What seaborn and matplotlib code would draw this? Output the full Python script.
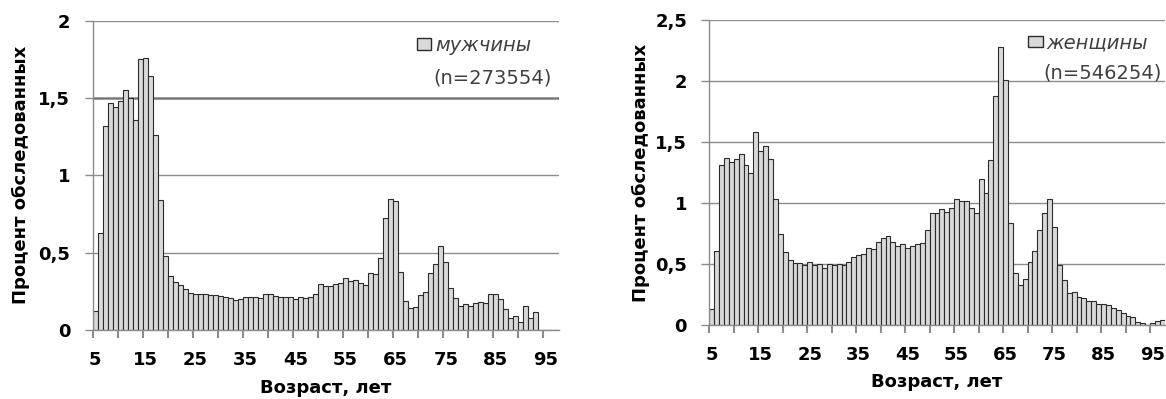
import matplotlib
matplotlib.use("Agg")
import matplotlib.pyplot as plt
import seaborn as sns
import pandas as pd
import numpy as np
from matplotlib.patches import Patch
from matplotlib.ticker import FixedLocator, NullFormatter, FixedFormatter

# ---------------- data ----------------
ages_m = list(range(5, 94))
pct_m = [0.12, 0.63, 1.32, 1.47, 1.44, 1.48, 1.55, 1.50, 1.36, 1.75,
         1.76, 1.64, 1.26, 0.84, 0.48, 0.35, 0.31, 0.29, 0.265, 0.237,
         0.23, 0.23, 0.23, 0.227, 0.225, 0.22, 0.215, 0.205, 0.195, 0.20,
         0.215, 0.212, 0.215, 0.205, 0.23, 0.235, 0.222, 0.212, 0.212, 0.212,
         0.20, 0.212, 0.205, 0.212, 0.23, 0.297, 0.285, 0.285, 0.297, 0.306,
         0.334, 0.32, 0.324, 0.302, 0.29, 0.37, 0.362, 0.463, 0.727, 0.845,
         0.835, 0.377, 0.188, 0.14, 0.15, 0.226, 0.243, 0.366, 0.425, 0.54,
         0.442, 0.274, 0.205, 0.158, 0.166, 0.158, 0.173, 0.179, 0.173, 0.233,
         0.233, 0.198, 0.136, 0.076, 0.09, 0.054, 0.158, 0.076, 0.119]

ages_f = list(range(5, 98))
pct_f = [0.13, 0.61, 1.31, 1.37, 1.34, 1.36, 1.40, 1.31, 1.25, 1.58,
         1.43, 1.47, 1.36, 1.03, 0.75, 0.60, 0.53, 0.51, 0.51, 0.49,
         0.52, 0.49, 0.50, 0.47, 0.50, 0.49, 0.50, 0.49, 0.52, 0.56,
         0.57, 0.58, 0.63, 0.62, 0.68, 0.71, 0.73, 0.68, 0.65, 0.66,
         0.63, 0.65, 0.66, 0.675, 0.78, 0.92, 0.92, 0.95, 0.93, 0.96,
         1.03, 1.02, 1.02, 0.96, 0.92, 1.20, 1.08, 1.35, 1.88, 2.28,
         2.01, 0.84, 0.43, 0.33, 0.38, 0.52, 0.61, 0.78, 0.915, 1.03,
         0.80, 0.49, 0.37, 0.26, 0.27, 0.23, 0.22, 0.20, 0.20, 0.17,
         0.17, 0.165, 0.14, 0.12, 0.10, 0.075, 0.068, 0.025, 0.02, 0.0,
         0.015, 0.03, 0.04]

x_label_ages = [5, 15, 25, 35, 45, 55, 65, 75, 85, 95]
x_tick_labels = ["5", "15", "25", "35", "45", "55", "65", "75", "85", "95"]
y_ticks_m = [0, 0.5, 1, 1.5, 2]
y_tick_labels_m = ["0", "0,5", "1", "1,5", "2"]
y_ticks_f = [0, 0.5, 1, 1.5, 2, 2.5]
y_tick_labels_f = ["0", "0,5", "1", "1,5", "2", "2,5"]

legend_m = "мужчины"
n_m = "(n=273554)"
legend_f = "женщины"
n_f = "(n=546254)"
y_title = "Процент обследованных"
x_title = "Возраст, лет"

# ---------------- style ----------------
FILL = "#d9d9d9"
EDGE = "#2b2b2b"
GRID = "#8c8c8c"

sns.set_theme(style="white")
plt.rcParams['font.family'] = ['DejaVu Sans']

W, H = 1166, 399
fig = plt.figure(figsize=(W / 100, H / 100), dpi=100)
ax1 = fig.add_axes([92.5 / W, 1 - 330 / H, 466 / W, 309.3 / H])
ax2 = fig.add_axes([709.3 / W, 1 - 325 / H, 455.4 / W, 305 / H])


def draw(ax, ages, pct, yticks, ylabels, ymax, leg, ntext, leg_pos, n_pos,
         ylab_x, xlab_y):
    df = pd.DataFrame({"age": ages, "pct": pct})
    sns.barplot(data=df, x="age", y="pct", native_scale=True, width=1.0,
                color=FILL, saturation=1, edgecolor=EDGE, linewidth=0.8,
                errorbar=None, ax=ax)
    ax.set_xlim(4.5, 97.5)
    ax.set_ylim(0, ymax)
    ax.set_axisbelow(True)
    ax.yaxis.grid(True, color=GRID, lw=1.0)
    ax.xaxis.grid(False)
    for s in ["top", "right"]:
        ax.spines[s].set_visible(False)
    for s in ["left", "bottom"]:
        ax.spines[s].set_color(GRID)
        ax.spines[s].set_linewidth(1.0)

    ax.xaxis.set_major_locator(FixedLocator(np.arange(4.5, 95, 5)))
    ax.xaxis.set_major_formatter(NullFormatter())
    ax.xaxis.set_minor_locator(FixedLocator(x_label_ages))
    ax.xaxis.set_minor_formatter(FixedFormatter(x_tick_labels))
    ax.tick_params(axis="x", which="major", bottom=True, length=6, width=1.5,
                   color=GRID, direction="out")
    ax.tick_params(axis="x", which="minor", bottom=True, length=0, pad=15,
                   labelsize=13, labelcolor="black")
    ax.set_yticks(yticks)
    ax.set_yticklabels(ylabels)
    ax.tick_params(axis="y", left=True, length=6, width=1.0, color=GRID,
                   direction="out", pad=10, labelsize=13, labelcolor="black")
    for t in ax.get_xticklabels(minor=True) + ax.get_yticklabels():
        t.set_fontweight("bold")

    ax.set_xlabel(x_title, fontsize=13, fontweight="bold", color="black")
    ax.set_ylabel(y_title, fontsize=13, fontweight="bold", color="black")
    ax.yaxis.set_label_coords(ylab_x, 0.5)
    ax.xaxis.set_label_coords(0.5, xlab_y)

    h = Patch(facecolor=FILL, edgecolor=EDGE, linewidth=1.0)
    lg = ax.legend([h], [leg], loc="center left", bbox_to_anchor=leg_pos,
                   frameon=False, borderpad=0, borderaxespad=0,
                   handlelength=0.75, handleheight=0.55, handletextpad=0.2,
                   prop={"style": "italic", "size": 14})
    for t in lg.get_texts():
        t.set_color("#404040")
    ax.text(n_pos[0], n_pos[1], ntext, transform=ax.transAxes, ha="right",
            va="center", fontsize=14, color="#404040")


draw(ax1, ages_m, pct_m, y_ticks_m, y_tick_labels_m, 2.0, legend_m, n_m,
     (0.696, 0.921), (0.986, 0.815), -0.135, -0.158)
draw(ax2, ages_f, pct_f, y_ticks_f, y_tick_labels_f, 2.5, legend_f, n_f,
     (0.700, 0.925), (0.994, 0.826), -0.13, -0.158)

# emphasised 1.5 grid line on the left panel
ax1.get_ygridlines()[3].set_linewidth(1.8)
ax1.get_ygridlines()[3].set_color("#7a7a7a")

fig.savefig("out.png", dpi=100, facecolor="white")
